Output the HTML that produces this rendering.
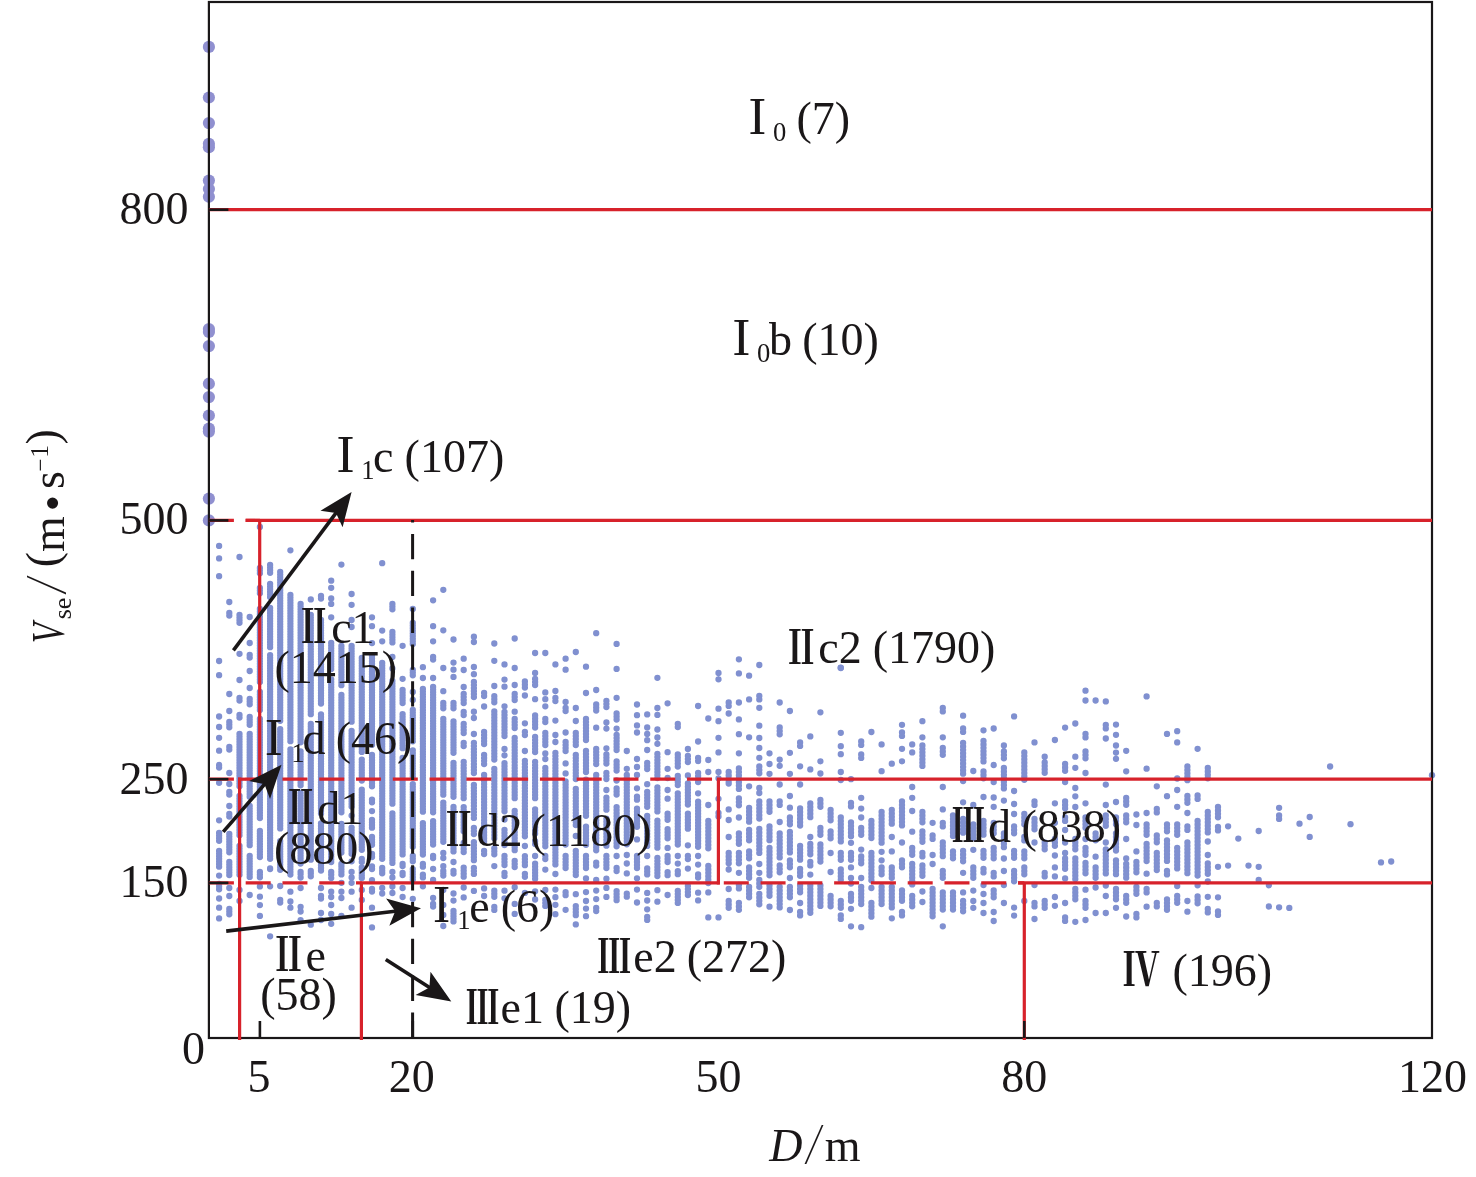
<!DOCTYPE html>
<html lang="zh"><head><meta charset="utf-8"><title>Vse - D</title>
<style>html,body{margin:0;padding:0;background:#fff}svg{display:block;will-change:transform}text{font-family:'Liberation Serif', 'Noto Serif CJK SC', serif;fill:#1a1718}</style></head><body>
<svg width="1476" height="1177" viewBox="0 0 1476 1177">
<rect width="1476" height="1177" fill="#fff"/>
<g id="pts" fill="#8090D0" stroke="#8090D0" stroke-width="6.3" stroke-linecap="round" stroke-dasharray="0.01 2.6">
<path d="M219.1 765.0V770.0M219.1 833.0V843.0M219.1 851.0V867.0M219.1 884.0V890.0M219.1 545.9v.01M219.1 558.4v.01M219.1 576.2v.01M219.1 661.0v.01M219.1 675.2v.01M219.1 716.5v.01M219.1 727.0v.01M219.1 737.8v.01M219.1 750.7v.01M219.1 782.8v.01M219.1 820.3v.01M219.1 875.6v.01M219.1 898.5v.01M219.1 907.7v.01M219.1 918.4v.01"/>
<path d="M229.3 613.0V618.0M229.3 722.0V728.0M229.3 747.0V750.0M229.3 773.0V775.0M229.3 792.0V796.0M229.3 814.0V819.0M229.3 834.0V853.0M229.3 862.0V877.0M229.3 909.0V915.0M229.3 602.0v.01M229.3 694.0v.01M229.3 711.0v.01M229.3 784.0v.01M229.3 806.0v.01M229.3 888.0v.01M229.3 896.0v.01"/>
<path d="M239.5 615.0V623.0M239.5 680.0V682.0M239.5 698.0V701.0M239.5 715.0V719.0M239.5 734.0V787.0M239.5 796.0V837.0M239.5 846.0V877.0M239.5 557.0v.01M239.5 653.8v.01M239.5 890.0v.01M239.5 901.0v.01"/>
<path d="M249.7 655.0V660.0M249.7 699.0V706.0M249.7 717.0V725.0M249.7 734.0V797.0M249.7 806.0V847.0M249.7 856.0V878.0M249.7 617.0v.01M249.7 643.0v.01M249.7 671.0v.01M249.7 688.0v.01M249.7 895.0v.01"/>
<path d="M259.9 568.0V574.0M259.9 588.0V595.0M259.9 609.0V682.6M259.9 691.8V711.3M259.9 718.9V820.5M259.9 830.9V859.6M259.9 872.0V879.1M259.9 527.0v.01M259.9 886.4v.01M259.9 896.7v.01M259.9 905.1v.01M259.9 915.9v.01"/>
<path d="M270.1 565.0V574.0M270.1 584.0V599.0M270.1 608.0V647.6M270.1 655.2V860.0M270.1 869.0v.01M270.1 868.5v.01M270.1 886.3v.01M270.1 936.3v.01"/>
<path d="M280.2 572.0V721.6M280.2 729.2V828.7M280.2 841.1V871.0M280.2 900.0V904.0M280.2 886.0v.01"/>
<path d="M290.4 595.0V741.6M290.4 749.3V876.0M290.4 550.3v.01M290.4 891.7v.01M290.4 901.5v.01M290.4 907.7v.01"/>
<path d="M300.6 604.0V742.9M300.6 751.3V785.4M300.6 793.0V865.0M300.6 874.0v.01M300.6 872.0v.01M300.6 877.5v.01M300.6 888.0v.01M300.6 906.8v.01M300.6 911.5v.01M300.6 920.2v.01"/>
<path d="M310.8 615.0V716.3M310.8 723.9V862.0M310.8 871.0V878.6M310.8 599.4v.01M310.8 872.0v.01M310.8 924.7v.01"/>
<path d="M321.0 596.0V600.0M321.0 620.0V705.8M321.0 714.3V814.6M321.0 823.5V873.0M321.0 896.0V901.0M321.0 888.0v.01M321.0 913.0v.01M321.0 920.0v.01"/>
<path d="M331.2 643.0V671.6M331.2 679.3V863.0M331.2 872.0V877.2M331.2 580.7v.01M331.2 587.8v.01M331.2 598.5v.01M331.2 603.9v.01M331.2 617.3v.01M331.2 872.0v.01M331.2 878.0v.01M331.2 891.7v.01M331.2 897.0v.01M331.2 905.0v.01M331.2 914.0v.01M331.2 923.8v.01"/>
<path d="M341.4 646.0V687.2M341.4 694.8V812.5M341.4 823.9V855.0M341.4 864.0V875.7M341.4 564.6v.01M341.4 865.0v.01M341.4 882.8v.01M341.4 891.7v.01M341.4 898.0v.01M341.4 915.8v.01"/>
<path d="M351.6 646.0V723.2M351.6 730.8V807.5M351.6 815.6V817.3M351.6 827.6V853.7M351.6 861.3V863.0M351.6 872.0V874.2M351.6 594.0v.01M351.6 604.8v.01M351.6 620.0v.01M351.6 627.0v.01M351.6 872.0v.01M351.6 877.4v.01M351.6 882.8v.01M351.6 891.7v.01M351.6 907.7v.01"/>
<path d="M361.8 658.0V752.0M361.8 759.6V782.1M361.8 789.7V850.0M361.8 867.5V878.5M361.8 859.0v.01M361.8 862.0v.01M361.8 877.4v.01M361.8 890.0v.01M361.8 900.0v.01"/>
<path d="M372.0 656.0V745.2M372.0 754.9V788.8M372.0 799.7V802.4M372.0 819.8V829.3M372.0 836.9V845.0M372.0 854.0V858.9M372.0 866.5V871.4M372.0 889.0V894.0M372.0 617.3v.01M372.0 626.2v.01M372.0 643.1v.01M372.0 811.1v.01M372.0 880.1v.01M372.0 857.0v.01M372.0 868.5v.01M372.0 907.7v.01M372.0 927.4v.01"/>
<path d="M382.2 663.0V859.0M382.2 868.0V874.2M382.2 563.2v.01M382.2 630.6v.01M382.2 641.3v.01M382.2 872.0v.01M382.2 888.0v.01M382.2 893.5v.01"/>
<path d="M392.4 604.0V611.0M392.4 632.0V643.0M392.4 681.0V805.7M392.4 813.3V863.0M392.4 657.0v.01M392.4 668.5v.01M392.4 872.0v.01M392.4 872.0v.01M392.4 877.5v.01M392.4 886.5v.01M392.4 893.0v.01"/>
<path d="M402.6 690.0V705.3M402.6 714.2V749.2M402.6 757.8V855.0M402.6 864.0V865.4M402.6 645.8v.01M402.6 678.8v.01M402.6 873.0v.01M402.6 866.0v.01M402.6 875.0v.01M402.6 888.0v.01M402.6 897.0v.01"/>
<path d="M412.8 623.0V645.0M412.8 670.0V677.0M412.8 710.0V742.4M412.8 750.3V776.5M412.8 784.1V847.0M412.8 856.0V859.0M412.8 869.1V880.6M412.8 856.0V863.0M412.8 609.0v.01M412.8 692.0v.01M412.8 700.0v.01M412.8 877.4v.01M412.8 898.8v.01"/>
<path d="M422.9 689.0V812.9M422.9 823.2V855.0M422.9 864.0V866.8M422.9 667.2v.01M422.9 678.0v.01M422.9 874.7v.01M422.9 866.7v.01M422.9 877.4v.01M422.9 886.3v.01"/>
<path d="M433.1 657.0V661.0M433.1 687.0V812.3M433.1 821.1V847.0M433.1 869.0V871.0M433.1 904.0V908.0M433.1 600.3v.01M433.1 626.2v.01M433.1 641.3v.01M433.1 678.0v.01M433.1 856.0v.01M433.1 868.8v.01M433.1 858.0v.01M433.1 880.0v.01M433.1 898.0v.01"/>
<path d="M443.3 703.0V710.0M443.3 719.0V795.0M443.3 802.6V844.0M443.3 871.0V875.0M443.3 589.8v.01M443.3 630.3v.01M443.3 668.0v.01M443.3 691.2v.01M443.3 853.0v.01M443.3 866.2v.01M443.3 875.5v.01M443.3 858.0v.01M443.3 890.0v.01M443.3 905.0v.01M443.3 915.0v.01M443.3 926.0v.01"/>
<path d="M453.5 703.0V709.0M453.5 721.5V755.2M453.5 762.8V799.2M453.5 807.0V853.0M453.5 862.0V863.9M453.5 871.0V875.0M453.5 911.0V922.0M453.5 639.5v.01M453.5 662.6v.01M453.5 669.7v.01M453.5 676.9v.01M453.5 893.5v.01M453.5 900.6v.01"/>
<path stroke-dasharray="0.01 3" d="M463.7 694.0V704.0M463.7 712.0V717.0M463.7 724.0V736.0M463.7 743.0V748.0M463.7 762.0V799.5M463.7 807.1V834.0M463.7 843.0V852.8M463.7 867.6V879.6M463.7 658.7v.01M463.7 670.0v.01M463.7 687.0v.01M463.7 887.5v.01M463.7 897.4v.01"/>
<path stroke-dasharray="0.01 3" d="M473.9 682.0V699.0M473.9 743.0V774.8M473.9 784.8V819.0M473.9 828.0V834.5M473.9 842.1V860.3M473.9 867.9V875.1M473.9 890.9V893.6M473.9 636.7v.01M473.9 642.0v.01M473.9 667.0v.01M473.9 674.2v.01M473.9 711.7v.01M473.9 718.0v.01M473.9 734.0v.01"/>
<path stroke-dasharray="0.01 3" d="M484.1 693.0V699.0M484.1 732.0V747.0M484.1 755.0V766.0M484.1 775.0V842.0M484.1 851.0V856.5M484.1 896.0V898.9M484.1 706.5v.01M484.1 888.4v.01"/>
<path stroke-dasharray="0.01 3" d="M494.3 696.2V702.4M494.3 711.4V760.0M494.3 768.9V840.0M494.3 848.3V857.0M494.3 890.7V898.6M494.3 906.9V912.7M494.3 643.5v.01M494.3 660.8v.01M494.3 686.0v.01M494.3 866.1v.01"/>
<path stroke-dasharray="0.01 3" d="M504.5 712.0V738.0M504.5 763.2V812.0M504.5 819.6V822.1M504.5 830.0V847.0M504.5 856.0V865.3M504.5 872.9V877.1M504.5 898.3V899.8M504.5 664.4v.01M504.5 679.6v.01M504.5 686.7v.01M504.5 706.3v.01M504.5 749.0v.01M504.5 755.3v.01M504.5 890.7v.01"/>
<path stroke-dasharray="0.01 3" d="M514.7 694.0V702.0M514.7 719.0V731.0M514.7 738.0V800.7M514.7 811.0V852.0M514.7 861.0V870.0M514.7 903.9V906.3M514.7 638.5v.01M514.7 668.0v.01M514.7 685.0v.01M514.7 711.7v.01M514.7 887.2v.01M514.7 913.9v.01"/>
<path stroke-dasharray="0.01 3" d="M524.9 681.5V688.5M524.9 732.0V738.0M524.9 761.0V837.0M524.9 846.0V847.3M524.9 856.1V866.2M524.9 873.8V879.2M524.9 695.5v.01M524.9 723.3v.01M524.9 751.0v.01M524.9 892.9v.01"/>
<path stroke-dasharray="0.01 3" d="M535.1 679.0V688.0M535.1 715.5V729.0M535.1 737.0V754.0M535.1 762.0V798.7M535.1 809.3V833.5M535.1 841.1V847.0M535.1 863.6V878.8M535.1 653.0v.01M535.1 673.0v.01M535.1 699.2v.01M535.1 856.0v.01M535.1 891.3v.01M535.1 899.5v.01"/>
<path stroke-dasharray="0.01 3" d="M545.3 719.0V724.0M545.3 733.0V747.0M545.3 768.0V847.0M545.3 856.0V859.4M545.3 899.9V907.5M545.3 653.0v.01M545.3 692.4v.01M545.3 699.2v.01M545.3 706.3v.01M545.3 753.5v.01M545.3 759.0v.01M545.3 869.6v.01M545.3 890.0v.01"/>
<path stroke-dasharray="0.01 3" d="M555.4 698.0V702.0M555.4 753.0V865.0M555.4 914.2V917.0M555.4 664.4v.01M555.4 691.0v.01M555.4 720.6v.01M555.4 735.0v.01M555.4 742.0v.01M555.4 874.0v.01M555.4 889.6v.01M555.4 897.2v.01M555.4 904.8v.01"/>
<path stroke-dasharray="0.01 3" d="M565.6 708.0V713.5M565.6 742.0V752.5M565.6 781.4V847.0M565.6 856.0V870.9M565.6 892.2V896.0M565.6 909.8V911.3M565.6 658.7v.01M565.6 669.7v.01M565.6 702.0v.01M565.6 732.5v.01M565.6 763.4v.01M565.6 773.4v.01"/>
<path stroke-dasharray="0.01 3" d="M575.8 733.0V747.0M575.8 755.0V781.3M575.8 788.9V826.9M575.8 851.0V875.7M575.8 906.1V916.8M575.8 652.0v.01M575.8 708.0v.01M575.8 721.0v.01M575.8 836.0v.01M575.8 894.2v.01M575.8 924.4v.01"/>
<path stroke-dasharray="0.01 3" d="M586.0 719.0V742.0M586.0 751.0V772.1M586.0 779.7V816.0M586.0 826.7V847.0M586.0 856.0V870.4M586.0 666.7v.01M586.0 693.0v.01M586.0 878.4v.01M586.0 892.1v.01M586.0 901.0v.01M586.0 908.6v.01M586.0 916.2v.01"/>
<path stroke-dasharray="0.01 3" d="M596.2 704.5V713.5M596.2 749.0V767.0M596.2 775.0V852.2M596.2 862.6V866.5M596.2 908.0V912.0M596.2 633.2v.01M596.2 690.0v.01M596.2 727.7v.01M596.2 880.0v.01M596.2 890.6v.01M596.2 899.1v.01"/>
<path stroke-dasharray="0.01 3" d="M606.4 701.0V708.0M606.4 754.5V765.0M606.4 773.0V780.7M606.4 797.6V811.0M606.4 818.6V847.0M606.4 856.0V870.9M606.4 878.7V880.5M606.4 722.4v.01M606.4 728.6v.01M606.4 748.3v.01M606.4 790.0v.01M606.4 887.9v.01M606.4 896.9v.01"/>
<path stroke-dasharray="0.01 3" d="M616.6 713.5V720.5M616.6 735.0V752.5M616.6 761.5V772.0M616.6 788.5V796.2M616.6 807.1V847.0M616.6 868.0V871.1M616.6 891.1V900.6M616.6 643.9v.01M616.6 668.9v.01M616.6 697.8v.01M616.6 728.6v.01M616.6 780.5v.01M616.6 856.0v.01"/>
<path stroke-dasharray="0.01 3" d="M626.8 775.0V846.0M626.8 863.5V865.8M626.8 873.4V874.9M626.8 893.7V898.1M626.8 751.0v.01M626.8 768.8v.01M626.8 855.0v.01"/>
<path stroke-dasharray="0.01 3" d="M637.0 796.7V800.6M637.0 808.7V828.7M637.0 839.4V841.0M637.0 856.0V870.7M637.0 878.3V879.5M637.0 902.5V904.6M637.0 704.5v.01M637.0 715.2v.01M637.0 725.4v.01M637.0 732.5v.01M637.0 759.0v.01M637.0 767.0v.01M637.0 775.0v.01M637.0 788.3v.01M637.0 889.6v.01"/>
<path stroke-dasharray="0.01 3" d="M647.2 763.0V771.1M647.2 791.8V808.1M647.2 815.8V847.0M647.2 868.4V876.0M647.2 900.5V901.7M647.2 916.9V920.0M647.2 714.4v.01M647.2 727.4v.01M647.2 734.0v.01M647.2 740.2v.01M647.2 750.0v.01M647.2 784.2v.01M647.2 856.0v.01M647.2 892.9v.01M647.2 909.3v.01"/>
<path stroke-dasharray="0.01 3" d="M657.4 754.0V779.7M657.4 787.3V813.0M657.4 820.6V849.0M657.4 858.0V878.0M657.4 677.8v.01M657.4 708.0v.01M657.4 714.9v.01M657.4 729.5v.01M657.4 737.5v.01M657.4 743.8v.01M657.4 890.2v.01M657.4 901.7v.01"/>
<path stroke-dasharray="0.01 3" d="M667.6 813.7V821.6M667.6 829.2V838.5M667.6 856.0V864.6M667.6 872.2V876.5M667.6 703.3v.01M667.6 752.2v.01M667.6 768.8v.01M667.6 778.0v.01M667.6 790.0v.01M667.6 798.7v.01M667.6 847.9v.01M667.6 895.0v.01"/>
<path stroke-dasharray="0.01 3" d="M677.8 724.0V728.5M677.8 754.5V767.0M677.8 776.0V785.7M677.8 793.3V847.0M677.8 871.2V875.0M677.8 890.9V905.2M677.8 856.0v.01M677.8 863.6v.01"/>
<path stroke-dasharray="0.01 3" d="M687.9 756.0V765.0M687.9 783.5V806.0M687.9 813.6V830.5M687.9 856.0V859.4M687.9 886.0V896.0M687.9 749.0v.01M687.9 775.4v.01M687.9 845.3v.01M687.9 868.6v.01"/>
<path stroke-dasharray="0.01 3" d="M698.1 758.0V763.5M698.1 773.0V783.5M698.1 801.6V847.0M698.1 874.5V880.1M698.1 706.0v.01M698.1 741.5v.01M698.1 793.3v.01M698.1 856.0v.01M698.1 864.6v.01M698.1 892.7v.01M698.1 900.4v.01"/>
<path stroke-dasharray="0.01 3.4" d="M708.3 821.0V849.0M708.3 866.0V886.0M708.3 718.5v.01M708.3 760.0v.01M708.3 772.0v.01M708.3 805.0v.01M708.3 892.4v.01M708.3 917.4v.01"/>
<path stroke-dasharray="0.01 3.4" d="M718.5 813.0V818.0M718.5 673.0v.01M718.5 679.3v.01M718.5 708.7v.01M718.5 721.2v.01M718.5 737.8v.01M718.5 752.4v.01M718.5 772.0v.01M718.5 778.3v.01M718.5 798.8v.01M718.5 917.4v.01"/>
<path stroke-dasharray="0.01 3.4" d="M728.7 702.5V706.0M728.7 772.0V783.0M728.7 853.0V864.0M728.7 901.0V908.5M728.7 713.5v.01M728.7 783.6v.01M728.7 809.4v.01M728.7 820.0v.01M728.7 837.0v.01M728.7 869.5v.01M728.7 889.0v.01"/>
<path stroke-dasharray="0.01 3.4" d="M738.9 768.5V791.0M738.9 798.5V808.0M738.9 833.5V844.0M738.9 853.0V864.0M738.9 885.0V890.5M738.9 903.0V912.0M738.9 659.3v.01M738.9 673.4v.01M738.9 702.5v.01M738.9 719.4v.01M738.9 734.2v.01M738.9 753.3v.01M738.9 817.5v.01M738.9 872.8v.01"/>
<path stroke-dasharray="0.01 3.4" d="M749.1 808.0V822.5M749.1 830.0V840.5M749.1 851.5V858.5M749.1 867.5V880.0M749.1 887.0V897.5M749.1 675.7v.01M749.1 699.4v.01M749.1 737.3v.01M749.1 786.3v.01"/>
<path stroke-dasharray="0.01 3.4" d="M759.3 696.0V700.0M759.3 766.5V775.5M759.3 801.5V821.0M759.3 829.0V853.0M759.3 880.0V887.0M759.3 894.0V905.0M759.3 665.0v.01M759.3 707.8v.01M759.3 725.7v.01M759.3 738.0v.01M759.3 748.0v.01M759.3 757.8v.01M759.3 788.0v.01M759.3 793.0v.01M759.3 864.0v.01M759.3 872.8v.01"/>
<path stroke-dasharray="0.01 3.4" d="M769.5 801.5V814.0M769.5 826.5V840.5M769.5 848.0V876.0M769.5 885.5V896.0M769.5 753.3v.01M769.5 764.0v.01M769.5 773.8v.01M769.5 906.7v.01"/>
<path stroke-dasharray="0.01 3.4" d="M779.7 727.5V736.5M779.7 801.5V807.0M779.7 833.5V858.5M779.7 865.5V874.5M779.7 887.0V908.5M779.7 702.5v.01M779.7 759.6v.01M779.7 765.8v.01M779.7 784.5v.01M779.7 822.0v.01"/>
<path stroke-dasharray="0.01 3.4" d="M789.9 817.5V824.5M789.9 832.0V853.0M789.9 860.5V869.0M789.9 887.0V897.5M789.9 711.0v.01M789.9 752.8v.01M789.9 773.8v.01M789.9 796.0v.01M789.9 807.7v.01M789.9 878.0v.01M789.9 910.0v.01"/>
<path stroke-dasharray="0.01 3.4" d="M800.1 742.5V747.0M800.1 808.5V828.0M800.1 846.0V860.0M800.1 869.0V876.5M800.1 885.5V894.0M800.1 912.0V917.5M800.1 766.3v.01M800.1 784.5v.01M800.1 903.0v.01"/>
<path stroke-dasharray="0.01 3.4" d="M810.3 803.5V819.0M810.3 844.0V855.0M810.3 862.0V867.5M810.3 885.5V915.5M810.3 736.4v.01M810.3 769.4v.01M810.3 837.0v.01M810.3 874.6v.01"/>
<path stroke-dasharray="0.01 3.4" d="M820.4 800.0V810.0M820.4 828.0V837.0M820.4 844.5V864.0M820.4 885.5V908.5M820.4 712.3v.01M820.4 761.3v.01M820.4 773.5v.01"/>
<path stroke-dasharray="0.01 3.4" d="M830.6 810.0V821.0M830.6 831.5V841.5M830.6 896.0V908.5M830.6 853.0v.01M830.6 872.0v.01"/>
<path stroke-dasharray="0.01 3.4" d="M840.8 817.5V842.5M840.8 853.0V862.0M840.8 869.5V880.0M840.8 901.0V908.5M840.8 915.5V919.0M840.8 668.0v.01M840.8 732.8v.01M840.8 746.2v.01M840.8 754.2v.01M840.8 772.0v.01M840.8 780.0v.01"/>
<path stroke-dasharray="0.01 3.4" d="M851.0 803.0V808.5M851.0 822.5V837.0M851.0 853.0V860.5M851.0 894.0V903.0M851.0 779.2v.01M851.0 842.8v.01M851.0 867.4v.01M851.0 878.0v.01M851.0 883.5v.01M851.0 908.8v.01M851.0 926.3v.01"/>
<path stroke-dasharray="0.01 3.4" d="M861.2 741.5V747.0M861.2 754.5V758.5M861.2 828.0V837.0M861.2 856.5V864.0M861.2 887.0V905.0M861.2 797.8v.01M861.2 808.6v.01M861.2 817.5v.01M861.2 849.6v.01M861.2 878.0v.01M861.2 927.2v.01"/>
<path stroke-dasharray="0.01 3.4" d="M871.4 821.0V840.5M871.4 853.0V883.5M871.4 903.0V917.5M871.4 732.0v.01M871.4 888.0v.01"/>
<path stroke-dasharray="0.01 3.4" d="M881.6 812.0V844.0M881.6 867.5V876.5M881.6 887.0V905.0M881.6 744.4v.01M881.6 771.2v.01M881.6 851.8v.01M881.6 860.3v.01"/>
<path stroke-dasharray="0.01 3.4" d="M891.8 810.0V824.5M891.8 867.5V880.0M891.8 887.0V908.5M891.8 763.7v.01M891.8 837.0v.01M891.8 851.4v.01M891.8 918.3v.01"/>
<path stroke-dasharray="0.01 3.4" d="M902.0 732.5V736.5M902.0 801.5V828.0M902.0 860.5V869.0M902.0 890.5V903.0M902.0 912.0V917.5M902.0 724.8v.01M902.0 748.8v.01M902.0 761.3v.01M902.0 842.5v.01"/>
<path stroke-dasharray="0.01 3.4" d="M912.2 848.0V855.0M912.2 864.0V887.0M912.2 896.0V906.5M912.2 744.4v.01M912.2 752.4v.01M912.2 787.0v.01M912.2 797.8v.01M912.2 811.0v.01M912.2 831.7v.01"/>
<path stroke-dasharray="0.01 3.4" d="M922.4 745.5V766.5M922.4 812.0V824.5M922.4 831.5V844.0M922.4 853.0V858.5M922.4 865.5V876.5M922.4 721.2v.01M922.4 737.3v.01M922.4 891.5v.01M922.4 902.0v.01"/>
<path stroke-dasharray="0.01 3.4" d="M932.6 835.5V840.5M932.6 889.0V917.5M932.6 822.8v.01M932.6 855.0v.01M932.6 864.0v.01"/>
<path stroke-dasharray="0.01 3.4" d="M942.8 708.0V714.0M942.8 748.0V755.0M942.8 823.0V828.0M942.8 842.5V858.5M942.8 871.0V878.0M942.8 892.5V910.0M942.8 737.3v.01M942.8 787.0v.01M942.8 809.4v.01M942.8 926.3v.01"/>
<path stroke-dasharray="0.01 3.4" d="M953.0 815.5V837.0M953.0 851.5V858.5M953.0 892.5V912.0"/>
<path stroke-dasharray="0.01 3.4" d="M963.1 728.5V734.0M963.1 743.0V775.0M963.1 819.0V833.5M963.1 851.0V864.0M963.1 901.0V914.0M963.1 715.7v.01M963.1 781.0v.01M963.1 802.3v.01M963.1 872.8v.01M963.1 892.4v.01"/>
<path stroke-dasharray="0.01 3.4" d="M973.3 824.5V840.5M973.3 867.5V878.0M973.3 771.0v.01M973.3 805.0v.01M973.3 849.8v.01M973.3 890.6v.01M973.3 901.0v.01M973.3 907.8v.01"/>
<path stroke-dasharray="0.01 3.4" d="M983.5 741.0V764.0M983.5 771.5V778.5M983.5 821.0V837.0M983.5 851.0V860.0M983.5 869.0V873.0M983.5 730.3v.01M983.5 797.0v.01M983.5 885.0v.01M983.5 894.0v.01M983.5 903.0v.01M983.5 913.0v.01"/>
<path stroke-dasharray="0.01 3.4" d="M993.7 823.0V833.5M993.7 848.0V858.5M993.7 873.0V876.5M993.7 890.5V898.0M993.7 728.5v.01M993.7 765.0v.01M993.7 782.0v.01M993.7 797.5v.01M993.7 806.8v.01M993.7 912.0v.01M993.7 921.0v.01"/>
<path stroke-dasharray="0.01 3.4" d="M1003.9 751.5V760.5M1003.9 768.0V791.0M1003.9 833.5V849.5M1003.9 745.5v.01M1003.9 800.6v.01M1003.9 858.5v.01M1003.9 871.0v.01M1003.9 885.0v.01M1003.9 903.0v.01"/>
<path stroke-dasharray="0.01 3.4" d="M1014.1 826.5V833.5M1014.1 851.0V860.0M1014.1 871.0V881.5M1014.1 716.4v.01M1014.1 791.0v.01M1014.1 804.0v.01M1014.1 814.0v.01M1014.1 907.6v.01M1014.1 915.6v.01"/>
<path stroke-dasharray="0.01 3.4" d="M1024.3 752.5V782.0M1024.3 814.0V826.5M1024.3 837.0V842.5M1024.3 851.5V858.5M1024.3 867.5V874.5M1024.3 901.0v.01"/>
<path stroke-dasharray="0.01 3.4" d="M1034.5 801.5V807.0M1034.5 819.0V831.5M1034.5 903.0V907.0M1034.5 742.4v.01M1034.5 842.5v.01M1034.5 885.0v.01M1034.5 919.0v.01"/>
<path stroke-dasharray="0.01 3.4" d="M1044.7 762.5V775.0M1044.7 842.5V849.5M1044.7 873.0V878.0M1044.7 901.0V908.5M1044.7 756.7v.01"/>
<path stroke-dasharray="0.01 3.4" d="M1054.9 839.0V847.5M1054.9 740.0v.01M1054.9 803.3v.01M1054.9 822.8v.01M1054.9 855.5v.01M1054.9 867.4v.01M1054.9 876.4v.01M1054.9 897.0v.01M1054.9 905.8v.01"/>
<path stroke-dasharray="0.01 3.4" d="M1065.1 764.0V773.0M1065.1 801.5V808.5M1065.1 817.5V821.0M1065.1 858.5V871.0M1065.1 917.5V921.0M1065.1 727.6v.01M1065.1 782.0v.01M1065.1 830.0v.01M1065.1 842.5v.01M1065.1 853.0v.01M1065.1 878.5v.01M1065.1 903.0v.01"/>
<path stroke-dasharray="0.01 3.4" d="M1075.3 807.0V810.0M1075.3 839.0V851.5M1075.3 858.5V880.0M1075.3 889.0V899.5M1075.3 723.5v.01M1075.3 756.7v.01M1075.3 767.8v.01M1075.3 788.0v.01M1075.3 796.3v.01M1075.3 921.8v.01"/>
<path stroke-dasharray="0.01 3.4" d="M1085.5 734.0V739.0M1085.5 751.5V760.5M1085.5 817.5V828.0M1085.5 848.0V856.5M1085.5 863.0V876.5M1085.5 901.0V910.0M1085.5 690.7v.01M1085.5 700.5v.01M1085.5 773.0v.01M1085.5 803.3v.01M1085.5 839.0v.01M1085.5 889.7v.01M1085.5 920.0v.01"/>
<path stroke-dasharray="0.01 3.4" d="M1095.6 833.5V840.5M1095.6 867.5V880.0M1095.6 700.5v.01M1095.6 856.7v.01M1095.6 887.5v.01M1095.6 913.0v.01"/>
<path stroke-dasharray="0.01 3.4" d="M1105.8 725.0V730.5M1105.8 815.5V826.5M1105.8 849.5V876.5M1105.8 701.4v.01M1105.8 738.5v.01M1105.8 784.6v.01M1105.8 805.0v.01M1105.8 842.5v.01M1105.8 885.5v.01M1105.8 896.0v.01M1105.8 913.0v.01"/>
<path stroke-dasharray="0.01 3.4" d="M1116.0 817.5V826.5M1116.0 833.5V851.5M1116.0 860.5V876.5M1116.0 889.0V901.0M1116.0 724.6v.01M1116.0 734.8v.01M1116.0 745.5v.01M1116.0 752.6v.01M1116.0 758.8v.01M1116.0 802.0v.01M1116.0 907.8v.01"/>
<path stroke-dasharray="0.01 3.4" d="M1126.2 798.0V807.0M1126.2 815.5V824.5M1126.2 864.0V880.0M1126.2 896.0V903.0M1126.2 750.8v.01M1126.2 771.3v.01M1126.2 839.0v.01M1126.2 858.5v.01M1126.2 916.5v.01"/>
<path stroke-dasharray="0.01 3.4" d="M1136.4 862.0V874.5M1136.4 887.0V894.0M1136.4 914.0V919.0M1136.4 814.5v.01M1136.4 825.0v.01M1136.4 851.4v.01"/>
<path stroke-dasharray="0.01 3.4" d="M1146.6 824.5V837.0M1146.6 844.0V864.0M1146.6 889.0V894.0M1146.6 696.4v.01M1146.6 768.7v.01M1146.6 813.0v.01M1146.6 873.7v.01M1146.6 906.7v.01"/>
<path stroke-dasharray="0.01 3.4" d="M1156.8 809.0V815.5M1156.8 835.5V842.5M1156.8 853.0V871.0M1156.8 903.0V908.5M1156.8 786.3v.01"/>
<path stroke-dasharray="0.01 3.4" d="M1167.0 824.5V831.5M1167.0 840.5V864.0M1167.0 871.0V874.5M1167.0 899.5V912.0M1167.0 733.9v.01M1167.0 796.2v.01"/>
<path stroke-dasharray="0.01 3.4" d="M1177.2 824.5V837.0M1177.2 848.0V871.0M1177.2 896.0V903.0M1177.2 731.2v.01M1177.2 742.4v.01M1177.2 778.5v.01M1177.2 790.0v.01M1177.2 806.8v.01M1177.2 886.0v.01"/>
<path stroke-dasharray="0.01 3.4" d="M1187.4 766.5V780.5M1187.4 796.0V803.0M1187.4 826.5V831.5M1187.4 842.5V874.5M1187.4 813.0v.01M1187.4 901.0v.01M1187.4 911.7v.01"/>
<path stroke-dasharray="0.01 3.4" d="M1197.6 795.5V801.0M1197.6 821.0V876.5M1197.6 896.5V905.5M1197.6 748.8v.01M1197.6 885.3v.01"/>
<path stroke-dasharray="0.01 3.4" d="M1207.8 768.0V780.5M1207.8 812.0V835.0M1207.8 855.0V856.5M1207.8 863.5V876.5M1207.8 909.0V914.5M1207.8 841.5v.01M1207.8 881.5v.01M1207.8 896.8v.01"/>
<path stroke-dasharray="0.01 3.4" d="M1218.0 807.0V817.5M1218.0 827.0V833.5M1218.0 911.5V916.0M1218.0 866.8v.01M1218.0 897.3v.01"/>
<path stroke-dasharray="0.01 3.4" d="M1228.1 826.3v.01M1228.1 865.6v.01"/>
<path stroke-dasharray="0.01 3.4" d="M1238.3 838.6v.01"/>
<path stroke-dasharray="0.01 3.4" d="M1248.5 865.6v.01"/>
<path stroke-dasharray="0.01 3.4" d="M1258.7 831.0v.01M1258.7 866.8v.01M1258.7 880.0v.01"/>
<path stroke-dasharray="0.01 3.4" d="M1268.9 885.3v.01M1268.9 906.5v.01"/>
<path stroke-dasharray="0.01 3.4" d="M1279.1 815.5V821.0M1279.1 807.8v.01M1279.1 907.3v.01"/>
<path stroke-dasharray="0.01 3.4" d="M1289.3 907.9v.01"/>
<path stroke-dasharray="0.01 3.4" d="M1299.5 823.7v.01"/>
<path stroke-dasharray="0.01 3.4" d="M1309.7 817.0v.01M1309.7 836.9v.01"/>
<path stroke-dasharray="0.01 3.4" d="M1330.1 766.5v.01"/>
<path stroke-dasharray="0.01 3.4" d="M1350.5 824.2v.01"/>
<path stroke-dasharray="0.01 3.4" d="M1381.0 862.4v.01"/>
<path stroke-dasharray="0.01 3.4" d="M1391.2 861.5v.01"/>
<path stroke-dasharray="0.01 3.4" d="M1432.0 775.2v.01"/>
<path d="M840.7 667.7v.01"/>
</g>
<g id="big" fill="#9090D0">
<circle cx="208.9" cy="46.9" r="6.1"/>
<circle cx="208.9" cy="97.5" r="6.1"/>
<circle cx="208.9" cy="123.1" r="6.1"/>
<circle cx="208.9" cy="143.8" r="6.1"/>
<circle cx="208.9" cy="147.3" r="6.1"/>
<circle cx="208.9" cy="180.6" r="6.1"/>
<circle cx="208.9" cy="189.0" r="6.1"/>
<circle cx="208.9" cy="196.8" r="6.1"/>
<circle cx="208.9" cy="329.0" r="6.1"/>
<circle cx="208.9" cy="332.0" r="6.1"/>
<circle cx="208.9" cy="346.1" r="6.1"/>
<circle cx="208.9" cy="383.7" r="6.1"/>
<circle cx="208.9" cy="397.1" r="6.1"/>
<circle cx="208.9" cy="415.5" r="6.1"/>
<circle cx="208.9" cy="428.6" r="6.1"/>
<circle cx="208.9" cy="431.6" r="6.1"/>
<circle cx="208.9" cy="498.6" r="6.1"/>
<circle cx="208.9" cy="520.4" r="6.1"/>
</g>
<g id="axes" stroke="#1a1718" stroke-width="2.2" fill="none">
<rect x="208.9" y="2.0" width="1223.1" height="1036.0"/>
</g>
<g id="red" stroke="#D7222B" stroke-width="3.2" fill="none">
<path d="M208.9 209.7H1432.0"/>
<path d="M208.9 520.4H259.9" stroke-dasharray="25 11.78"/>
<path d="M245.6 520.4H1432.0"/>
<path d="M208.9 779.2H712.6" stroke-dasharray="25 11.78"/>
<path d="M238.0 779.2H246.0"/>
<path d="M716.9 779.2H1432.0"/>
<path d="M208.9 882.9H361.8" stroke-dasharray="25 11.78"/>
<path d="M360.2 882.9H719.7"/>
<path d="M723.8 882.9H1024.3" stroke-dasharray="25 11.78"/>
<path d="M1018.1 882.9H1432.0"/>
<path d="M259.7 520.4V779.2"/>
<path d="M239.6 777.6V1040.0"/>
<path d="M361.4 882.9V1040.0"/>
<path d="M718.4 779.2V884.5"/>
<path d="M1024.3 882.9V1040.0"/>
</g>
<path d="M412.6 520.0V1038.0" stroke="#1a1718" stroke-width="3" fill="none" stroke-dasharray="25.3 11.5" stroke-dashoffset="22.8"/>
<g id="ticks" stroke="#1a1718" stroke-width="2.6" fill="none">
<path d="M208.9 209.7H228.4"/>
<path d="M208.9 520.4H228.4"/>
<path d="M208.9 779.2H228.4"/>
<path d="M208.9 882.9H228.4"/>
<path d="M259.9 1038.0V1021.0"/>
<path d="M412.8 1038.0V1021.0"/>
<path d="M1024.3 1038.0V1021.0"/>
</g>
<g id="arrows">
<path d="M233.4 650.3L337.2 511.3" stroke="#1a1718" stroke-width="3.6" fill="none"/><path d="M351.6 492.1L342.6 527.2L336.0 512.9L320.5 510.7Z" fill="#1a1718"/>
<path d="M223.2 831.9L265.8 782.8" stroke="#1a1718" stroke-width="3.6" fill="none"/><path d="M281.5 764.7L270.0 799.0L264.5 784.3L249.1 781.0Z" fill="#1a1718"/>
<path d="M226.2 931.1L397.2 911.0" stroke="#1a1718" stroke-width="3.6" fill="none"/><path d="M421.0 908.2L389.3 925.8L395.2 911.2L386.1 898.4Z" fill="#1a1718"/>
<path d="M385.8 959.6L431.1 988.6" stroke="#1a1718" stroke-width="3.6" fill="none"/><path d="M451.3 1001.5L415.6 995.1L429.4 987.5L430.5 971.8Z" fill="#1a1718"/>
</g>
<g id="labels">
<text x="188.6" y="223.7" font-size="46.0" text-anchor="end">800</text>
<text x="188.6" y="534.4" font-size="46.0" text-anchor="end">500</text>
<text x="188.6" y="794.2" font-size="46.0" text-anchor="end">250</text>
<text x="188.6" y="896.7" font-size="46.0" text-anchor="end">150</text>
<text x="193.5" y="1064.0" font-size="46.0" text-anchor="middle">0</text>
<text x="259.1" y="1092.3" font-size="46.0" text-anchor="middle">5</text>
<text x="411.8" y="1092.3" font-size="46.0" text-anchor="middle">20</text>
<text x="718.5" y="1092.3" font-size="46.0" text-anchor="middle">50</text>
<text x="1024.3" y="1092.3" font-size="46.0" text-anchor="middle">80</text>
<text x="1432.6" y="1092.3" font-size="46.0" text-anchor="middle">120</text>
<text x="769.2" y="1160.7" font-size="46.0" font-style="italic">D</text>
<text transform="translate(810.9 1164) scale(0.62 1)" font-size="58.5">⁄</text>
<text x="824.7" y="1160.7" font-size="46.0">m</text>
<g transform="translate(63.8 641) rotate(-90)">
<text transform="translate(-2.2 0) scale(0.73 1)" font-size="46.0" font-style="italic">V</text>
<text x="21.7" y="6.7" font-size="26.0">se</text>
<text transform="translate(52.9 2.4) scale(0.62 1)" font-size="58.5">⁄</text>
<text x="73.7" y="-6.0" font-size="46.0">(</text>
<text x="89.1" y="0.0" font-size="46.0">m</text>
<text x="129.8" y="4.1" font-size="46.7">•</text>
<text x="151.9" y="0.0" font-size="46.0">s</text>
<text x="169.2" y="-16.2" font-size="23.5">−</text>
<text x="183.3" y="-16.0" font-size="25.5">1</text>
<text x="196.6" y="-6.0" font-size="46.0">)</text>
</g>
<text transform="translate(739.41 133.70) scale(0.763 1)" font-size="46.93" font-weight="700" style="font-family:'Liberation Serif', 'Noto Serif CJK SC', serif">Ⅰ</text>
<text x="773.1" y="141.0" font-size="26.6">0</text>
<text x="796.5" y="133.7" font-size="46.0">(7)</text>
<text transform="translate(723.34 354.90) scale(0.774 1)" font-size="46.93" font-weight="700" style="font-family:'Liberation Serif', 'Noto Serif CJK SC', serif">Ⅰ</text>
<text x="757.0" y="362.3" font-size="26.6">0</text>
<text x="769.0" y="354.6" font-size="46.0">b</text>
<text x="802.2" y="354.6" font-size="46.0">(10)</text>
<text transform="translate(327.26 471.90) scale(0.779 1)" font-size="46.93" font-weight="700" style="font-family:'Liberation Serif', 'Noto Serif CJK SC', serif">Ⅰ</text>
<text x="361.2" y="479.0" font-size="26.6">1</text>
<text x="373.0" y="471.7" font-size="46.0">c</text>
<text x="404.6" y="471.7" font-size="46.0">(107)</text>
<text transform="translate(297.08 643.30) scale(0.712 1)" font-size="46.93" font-weight="700" style="font-family:'Liberation Serif', 'Noto Serif CJK SC', serif">Ⅱ</text>
<text x="331.2" y="642.9" font-size="46.0">c1</text>
<text x="274.5" y="683.0" font-size="46.0">(1415)</text>
<text transform="translate(255.82 754.70) scale(0.768 1)" font-size="46.93" font-weight="700" style="font-family:'Liberation Serif', 'Noto Serif CJK SC', serif">Ⅰ</text>
<text x="291.2" y="761.5" font-size="26.6">1</text>
<text x="302.5" y="753.9" font-size="46.0">d</text>
<text x="335.8" y="753.9" font-size="46.0">(46)</text>
<text transform="translate(284.01 824.30) scale(0.709 1)" font-size="46.93" font-weight="700" style="font-family:'Liberation Serif', 'Noto Serif CJK SC', serif">Ⅱ</text>
<text x="317.2" y="823.8" font-size="46.0">d1</text>
<text x="273.9" y="863.6" font-size="46.0">(880)</text>
<text transform="translate(441.81 846.40) scale(0.722 1)" font-size="46.93" font-weight="700" style="font-family:'Liberation Serif', 'Noto Serif CJK SC', serif">Ⅱ</text>
<text x="476.5" y="845.8" font-size="46.0">d2</text>
<text x="530.6" y="845.8" font-size="46.0">(1180)</text>
<text transform="translate(424.23 922.10) scale(0.740 1)" font-size="46.93" font-weight="700" style="font-family:'Liberation Serif', 'Noto Serif CJK SC', serif">Ⅰ</text>
<text x="457.2" y="929.2" font-size="26.6">1</text>
<text x="469.3" y="921.5" font-size="46.0">e</text>
<text x="500.7" y="921.5" font-size="46.0">(6)</text>
<text transform="translate(270.92 971.20) scale(0.747 1)" font-size="46.93" font-weight="700" style="font-family:'Liberation Serif', 'Noto Serif CJK SC', serif">Ⅱ</text>
<text x="305.5" y="970.7" font-size="46.0">e</text>
<text x="260.3" y="1010.4" font-size="46.0">(58)</text>
<text transform="translate(465.73 1023.80) scale(0.715 1)" font-size="46.93" font-weight="700" style="font-family:'Liberation Serif', 'Noto Serif CJK SC', serif">Ⅲ</text>
<text x="500.6" y="1023.4" font-size="46.0">e1</text>
<text x="554.5" y="1023.4" font-size="46.0">(19)</text>
<text transform="translate(597.31 972.90) scale(0.722 1)" font-size="46.93" font-weight="700" style="font-family:'Liberation Serif', 'Noto Serif CJK SC', serif">Ⅲ</text>
<text x="633.3" y="972.3" font-size="46.0">e2</text>
<text x="686.7" y="972.3" font-size="46.0">(272)</text>
<text transform="translate(783.84 663.70) scale(0.744 1)" font-size="46.93" font-weight="700" style="font-family:'Liberation Serif', 'Noto Serif CJK SC', serif">Ⅱ</text>
<text x="818.3" y="663.1" font-size="46.0">c2</text>
<text x="872.8" y="663.1" font-size="46.0">(1790)</text>
<text transform="translate(951.84 842.20) scale(0.708 1)" font-size="46.93" font-weight="700" style="font-family:'Liberation Serif', 'Noto Serif CJK SC', serif">Ⅲ</text>
<text x="988.0" y="841.6" font-size="46.0">d</text>
<text x="1021.4" y="841.6" font-size="46.0">(838)</text>
<text transform="translate(1122.89 985.80) scale(0.785 1)" font-size="46.93" font-weight="700" style="font-family:'Liberation Serif', 'Noto Serif CJK SC', serif">Ⅳ</text>
<text x="1172.4" y="985.5" font-size="46.0">(196)</text>
</g>
</svg></body></html>
